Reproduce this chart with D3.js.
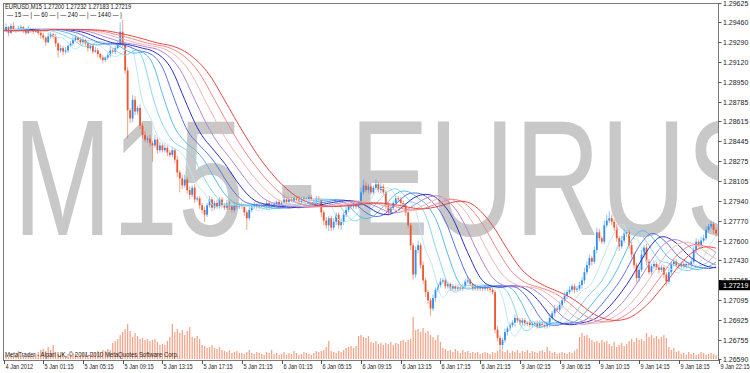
<!DOCTYPE html>
<html>
<head>
<meta charset="utf-8">
<script src="https://cdn.jsdelivr.net/npm/d3@7"></script>
<style>
  body { margin: 0; background: #fff; }
  svg { display: block; }
  text { font-family: "Liberation Sans", Arial, sans-serif; }
</style>
</head>
<body>
<div id="chart"></div>
<script>
// EURUSD M15 closes, one per bar (4 Jan 21:15 .. 9 Jan 22:45)
var closes = [
  1.2939, 1.2942, 1.2937, 1.2943, 1.2940, 1.2939, 1.2941, 1.2942,
  1.2939, 1.2937, 1.2940, 1.2939, 1.2938, 1.2939, 1.2937, 1.2935,
  1.2933, 1.2929, 1.2934, 1.2936, 1.2934, 1.2928, 1.2922, 1.2924,
  1.2921, 1.2922, 1.2926, 1.2928, 1.2931, 1.2933, 1.2931, 1.2929,
  1.2931, 1.2928, 1.2924, 1.2926, 1.2921, 1.2922, 1.2919, 1.2916,
  1.2914, 1.2916, 1.2918, 1.2922, 1.2921, 1.2924, 1.2927, 1.2938,
  1.2927, 1.2905, 1.2871, 1.2864, 1.2880, 1.2870, 1.2873, 1.2858,
  1.2850, 1.2846, 1.2847, 1.2843, 1.2841, 1.2846, 1.2837, 1.2841,
  1.2837, 1.2839, 1.2835, 1.2833, 1.2837, 1.2829, 1.2818, 1.2813,
  1.2807, 1.2812, 1.2803, 1.2799, 1.2805, 1.2795, 1.2796, 1.2790,
  1.2786, 1.2782, 1.2790, 1.2795, 1.2788, 1.2792, 1.2789, 1.2795,
  1.2790, 1.2788, 1.2792, 1.2789, 1.2786, 1.2791, 1.2789, 1.2790,
  1.2789, 1.2784, 1.2779, 1.2786, 1.2789, 1.2791, 1.2789, 1.2790,
  1.2790, 1.2789, 1.2792, 1.2789, 1.2790, 1.2791, 1.2793, 1.2790, 1.2792,
  1.2795, 1.2793, 1.2795, 1.2794, 1.2796, 1.2795, 1.2793, 1.2795,
  1.2796, 1.2795, 1.2797, 1.2795, 1.2794, 1.2796, 1.2795, 1.2784,
  1.2777, 1.2773, 1.2779, 1.2771, 1.2776, 1.2782, 1.2773, 1.2776,
  1.2782, 1.2786, 1.2790, 1.2789, 1.2791, 1.2789, 1.2792, 1.2801,
  1.2807, 1.2803, 1.2806, 1.2801, 1.2805, 1.2808, 1.2803, 1.2806,
  1.2801, 1.2790, 1.2784, 1.2788, 1.2792, 1.2796, 1.2795, 1.2792,
  1.2790, 1.2784, 1.2773, 1.2756, 1.2731, 1.2752, 1.2756, 1.2739,
  1.2726, 1.2716, 1.2709, 1.2702, 1.2711, 1.2718, 1.2722, 1.2725,
  1.2726, 1.2721, 1.2723, 1.2719, 1.2721, 1.2719, 1.2720, 1.2719,
  1.2721, 1.2725, 1.2726, 1.2723, 1.2719, 1.2721, 1.2719, 1.2720,
  1.2719, 1.2721, 1.2719, 1.2718, 1.2716, 1.2684, 1.2677, 1.2671,
  1.2675, 1.2682, 1.2685, 1.2688, 1.2690, 1.2694, 1.2692, 1.2690,
  1.2692, 1.2689, 1.2690, 1.2688, 1.2689, 1.2690, 1.2687, 1.2690, 1.2688,
  1.2687, 1.2689, 1.2694, 1.2698, 1.2702, 1.2701, 1.2705, 1.2709,
  1.2713, 1.2716, 1.2718, 1.2721, 1.2718, 1.2719, 1.2722, 1.2726,
  1.2733, 1.2739, 1.2745, 1.2742, 1.2752, 1.2767, 1.2762, 1.2759,
  1.2773, 1.2777, 1.2779, 1.2776, 1.2771, 1.2762, 1.2755, 1.2760,
  1.2766, 1.2767, 1.2756, 1.2748, 1.2739, 1.2728, 1.2735, 1.2748,
  1.2754, 1.2742, 1.2733, 1.2738, 1.2740, 1.2737, 1.2735, 1.2737,
  1.2731, 1.2725, 1.2733, 1.2740, 1.2742, 1.2739, 1.2738, 1.2740,
  1.2738, 1.2740, 1.2739, 1.2742, 1.2752, 1.2759, 1.2756, 1.2760,
  1.2762, 1.2769, 1.2772, 1.2774, 1.2769, 1.2766
];
var firstOpen = 1.2941;

// wick lengths above / below the body, in pips
var wickHi = [
  2,3,1,2,3,1,2,2, 1,2,3,1,2,2,1,2, 2,1,3,2,1,2,1,3, 2,3,1,2,3,2,1,2,
  3,1,2,2,1,3,2,1, 2,1,2,3,2,2,3,8, 10,2,3,2,4,3,2,3, 2,3,2,3,2,4,2,3,
  2,3,2,2,3,2,3,2, 3,4,2,3,2,3,2,2, 2,3,2,3,2,2,3,2, 2,2,3,2,1,2,2,2,
  2,1,2,3,2,2,1,2, 1,2,2,1,2,2,1,2,2, 2,1,2,2,1,2,3,2, 2,1,2,2,1,2,2,1,
  2,3,2,2,3,2,2,3, 2,3,2,2,2,3,2,4, 5,3,2,3,2,4,2,3, 2,2,3,2,2,3,2,2,
  2,2,1,2,2,3,4,2, 3,2,2,2,3,2,2,3, 2,2,2,1,2,1,2,1, 2,2,3,2,1,2,1,2,
  1,2,1,1,2,2,3,2, 2,3,2,2,2,3,2,2, 2,2,1,2,2,1,2,2,1, 2,2,3,2,3,2,3,2,
  3,2,3,2,2,2,3,3, 4,3,3,2,3,4,3,2, 4,5,6,3,2,3,2,4, 3,3,2,3,2,2,3,4,
  2,3,2,2,3,2,2,2, 2,2,3,2,2,2,2,2, 2,2,2,2,3,3,2,3, 3,3,2,3,2,2
];
var wickLo = [
  2,1,3,1,2,2,1,2, 2,2,1,2,2,1,2,3, 2,3,1,2,2,3,6,2, 3,2,2,1,2,1,2,2,
  2,2,3,2,2,1,3,2, 3,2,2,2,2,2,1,2, 2,3,24,4,3,3,3,3, 3,2,3,3,14,2,3,2,
  2,2,3,2,2,3,4,12, 3,2,3,4,2,3,2,3, 3,6,2,2,3,2,2,2, 2,2,2,3,2,2,2,2,
  2,3,10,2,2,2,2,2, 2,2,2,2,2,1,2,2,2, 2,2,2,1,2,2,1,2, 2,2,2,1,2,2,2,4,
  4,3,5,3,2,3,3,4, 3,2,2,2,2,2,2,2, 2,2,3,2,2,2,2,3, 2,3,3,2,2,2,2,3,
  2,3,2,4,4,3,3,3, 3,4,3,6,2,3,2,2, 2,2,2,2,2,2,2,2, 2,2,2,2,2,2,2,2,
  2,2,2,2,2,3,3,5, 4,2,3,2,2,3,2,2, 2,2,2,2,2,2,2,2,2, 2,2,3,2,3,2,2,3,
  2,3,2,2,3,2,2,3, 3,2,3,3,2,3,3,2, 2,2,2,3,3,3,4,2, 2,3,3,3,3,4,3,2,
  3,3,2,3,2,2,3,2, 3,4,2,2,2,2,2,2, 2,2,2,2,2,2,2,2, 2,2,2,2,3,3
];

// tick volume per bar
var volumes = [
  60,80,40,100,60,80,160,60,80,40,100,60,80,100,
  140,180,200,160,240,180,280,140,
  100,80,120,60,100,80,120,100,60,80,120,100,80,140,100,120,
  160,140,180,160,200,180,320,
  360,400,480,540,600,700,560,440,
  520,460,400,420,380,400,360,380,400,340,280,
  300,280,360,440,700,
  540,600,520,580,480,560,640,
  440,420,460,400,
  280,260,220,240,280,220,200,240,
  180,160,140,180,120,140,160,120,
  120,100,140,180,120,100,140,120,100,80,140,120,180,100,120,80,
  100,140,80,120,100,160,120,80,100,140,120,100,80,120,160,140,
  160,180,240,360,160,
  140,120,160,140,180,220,
  240,260,220,260,460,
  480,440,420,460,340,320,360,300,320,
  280,320,300,340,280,320,300,360,380,340,380,
  400,840,580,
  600,540,620,520,560,480,
  440,380,480,340,
  220,200,160,180,140,200,160,120,180,140,160,120,
  140,120,140,100,120,140,120,100,140,120,160,
  180,160,140,180,120,160,140,180,120,160,140,
  180,120,160,140,120,160,180,140,240,160,
  120,140,100,120,140,120,100,140,120,160,
  200,440,520,460,480,420,
  380,340,360,320,380,340,360,
  300,260,340,240,280,320,260,300,
  360,400,340,420,380,400,360,
  520,440,480,420,460,400,440,480,420,
  240,180,220,140,160,
  100,120,80,140,100,120,80,100,140,120,80,100,120,100,80
];

// nine smoothed averages: period (applied twice) and shift in bars
var maPeriods = [4, 6, 8, 10, 12, 14, 16, 18, 20];
var maShifts  = [2, 4, 6, 8, 10, 12, 14, 16, 18];
var maColors = ["#bde8f6", "#86d5f0", "#55bdec", "#5873e8", "#2c2cc4",
                "#b684cf", "#f4b2b2", "#f08686", "#e84545"];

var priceTicks = [1.29625, 1.29460, 1.29290, 1.29120, 1.28950, 1.28785, 1.28615,
  1.28445, 1.28275, 1.28105, 1.27940, 1.27770, 1.27600, 1.27430, 1.27265,
  1.27095, 1.26925, 1.26755, 1.26590];

var timeLabels = ["4 Jan 2012", "5 Jan 01:15", "5 Jan 05:15", "5 Jan 09:15",
  "5 Jan 13:15", "5 Jan 17:15", "5 Jan 21:15", "6 Jan 01:15", "6 Jan 05:15",
  "6 Jan 09:15", "6 Jan 13:15", "6 Jan 17:15", "6 Jan 21:15", "9 Jan 02:15",
  "9 Jan 06:15", "9 Jan 10:15", "9 Jan 14:15", "9 Jan 18:15", "9 Jan 22:15"];
var barsPerLabel = 16;

var symbol = "EURUSD,M15";
var lastOHLC = ["1.27200", "1.27232", "1.27183", "1.27219"];
var lastPrice = 1.27219;
var legendText = "\u2014 15 \u2014 | \u2014 60 \u2014 | \u2014 240 \u2014 | \u2014 1440 \u2014 |";
var watermark = "M15 - EURUSD";
var copyright = "MetaTrader - Alpari UK, \u00a9 2001-2010 MetaQuotes Software Corp.";

(function() {
  var width = 750, height = 373;
  var plot = { left: 3, right: 718, top: 3, bottom: 360 };

  var svg = d3.select("#chart").append("svg")
    .attr("width", width)
    .attr("height", height);

  var xScale = d3.scaleLinear().domain([0, 288]).range([3.5, 718.5]);
  var yScale = d3.scaleLinear().domain([1.26590, 1.29625]).range([359, 3]);
  var volScale = d3.scaleLinear().domain([0, 1000]).range([359, 309]);

  svg.append("defs").append("clipPath").attr("id", "plotclip")
    .append("rect")
    .attr("x", plot.left).attr("y", plot.top)
    .attr("width", plot.right - plot.left).attr("height", plot.bottom - plot.top);

  var g = svg.append("g").attr("clip-path", "url(#plotclip)");

  // big watermark behind everything
  g.append("text")
    .attr("transform", "translate(13,235) scale(0.72,1)")
    .style("font-size", "165px")
    .style("fill", "#c8c8c8")
    .text(watermark);

  // volumes
  g.selectAll(".vol")
    .data(volumes)
    .enter().append("line")
    .attr("class", "vol")
    .attr("x1", function(d, i) { return xScale(i); })
    .attr("x2", function(d, i) { return xScale(i); })
    .attr("y1", volScale(0))
    .attr("y2", function(d) { return volScale(d); })
    .attr("stroke", "#f3a58b")
    .attr("stroke-width", 1.3);

  // candles
  var bars = closes.map(function(c, i) {
    var o = i === 0 ? firstOpen : closes[i - 1];
    return {
      i: i, open: o, close: c,
      high: Math.max(o, c) + (wickHi[i] || 2) / 10000,
      low: Math.min(o, c) - (wickLo[i] || 2) / 10000
    };
  });

  var up = "#2f8ff0", down = "#f0552e";

  g.selectAll(".wick")
    .data(bars)
    .enter().append("line")
    .attr("class", "wick")
    .attr("x1", function(d) { return xScale(d.i); })
    .attr("x2", function(d) { return xScale(d.i); })
    .attr("y1", function(d) { return yScale(d.high); })
    .attr("y2", function(d) { return yScale(d.low); })
    .attr("stroke", function(d) { return d.close >= d.open ? up : down; })
    .attr("stroke-opacity", 0.55)
    .attr("stroke-width", 1);

  g.selectAll(".body")
    .data(bars)
    .enter().append("rect")
    .attr("class", "body")
    .attr("x", function(d) { return xScale(d.i) - 0.9; })
    .attr("width", 1.8)
    .attr("y", function(d) { return yScale(Math.max(d.open, d.close)); })
    .attr("height", function(d) {
      return Math.max(1, Math.abs(yScale(d.open) - yScale(d.close)));
    })
    .attr("fill", function(d) { return d.close >= d.open ? up : down; });

  // moving averages
  function sma(arr, p) {
    return arr.map(function(c, i) {
      var s = Math.max(0, i - p + 1);
      return d3.mean(arr.slice(s, i + 1));
    });
  }
  function shift(arr, s) {
    return arr.map(function(c, i) { return arr[Math.max(0, i - s)]; });
  }

  var line = d3.line()
    .x(function(d, i) { return xScale(i); })
    .y(function(d) { return yScale(d); })
    .curve(d3.curveMonotoneX);

  maPeriods.forEach(function(p, k) {
    var vals = shift(sma(sma(closes, p), p), maShifts[k]);
    g.append("path")
      .datum(vals)
      .attr("d", line)
      .attr("fill", "none")
      .attr("stroke", maColors[k])
      .attr("stroke-width", 1);
  });

  // frame
  svg.append("rect")
    .attr("x", plot.left + 0.5).attr("y", plot.top + 0.5)
    .attr("width", plot.right - plot.left).attr("height", plot.bottom - plot.top)
    .attr("fill", "none")
    .attr("stroke", "#7a7a7a")
    .attr("stroke-width", 1);

  // price axis
  priceTicks.forEach(function(t) {
    var y = Math.round(yScale(t)) + 0.5;
    svg.append("line")
      .attr("x1", plot.right + 0.5).attr("x2", plot.right + 3.5)
      .attr("y1", y).attr("y2", y)
      .attr("stroke", "#555");
    svg.append("text")
      .attr("x", 723).attr("y", y + 2.5)
      .style("font-size", "7px")
      .style("fill", "#222")
      .text(t.toFixed(5));
  });

  // current price tag
  var ly = yScale(lastPrice);
  svg.append("rect")
    .attr("x", 719).attr("y", ly - 5)
    .attr("width", 31).attr("height", 10)
    .attr("fill", "#000");
  svg.append("text")
    .attr("x", 723).attr("y", ly + 2.5)
    .style("font-size", "7px")
    .style("fill", "#fff")
    .text(lastPrice.toFixed(5));

  // time axis
  timeLabels.forEach(function(lbl, k) {
    var x = Math.round(xScale(k * barsPerLabel)) + 0.5;
    svg.append("line")
      .attr("x1", x).attr("x2", x)
      .attr("y1", plot.bottom).attr("y2", plot.bottom + 4)
      .attr("stroke", "#555");
    svg.append("text")
      .attr("transform", "translate(" + (x + 1) + ",369) scale(0.8,1)")
      .style("font-size", "7px")
      .style("fill", "#222")
      .text(lbl);
  });

  // header and footer texts
  svg.append("text")
    .attr("transform", "translate(5,9) scale(0.82,1)")
    .style("font-size", "7px")
    .style("fill", "#111")
    .text(symbol + "  " + lastOHLC.join(" "));

  svg.append("text")
    .attr("transform", "translate(7,17) scale(0.85,1)")
    .style("font-size", "7px")
    .style("fill", "#111")
    .text(legendText);

  svg.append("text")
    .attr("transform", "translate(5,357) scale(0.85,1)")
    .style("font-size", "7px")
    .style("fill", "#222")
    .text(copyright);
})();
</script>
</body>
</html>
